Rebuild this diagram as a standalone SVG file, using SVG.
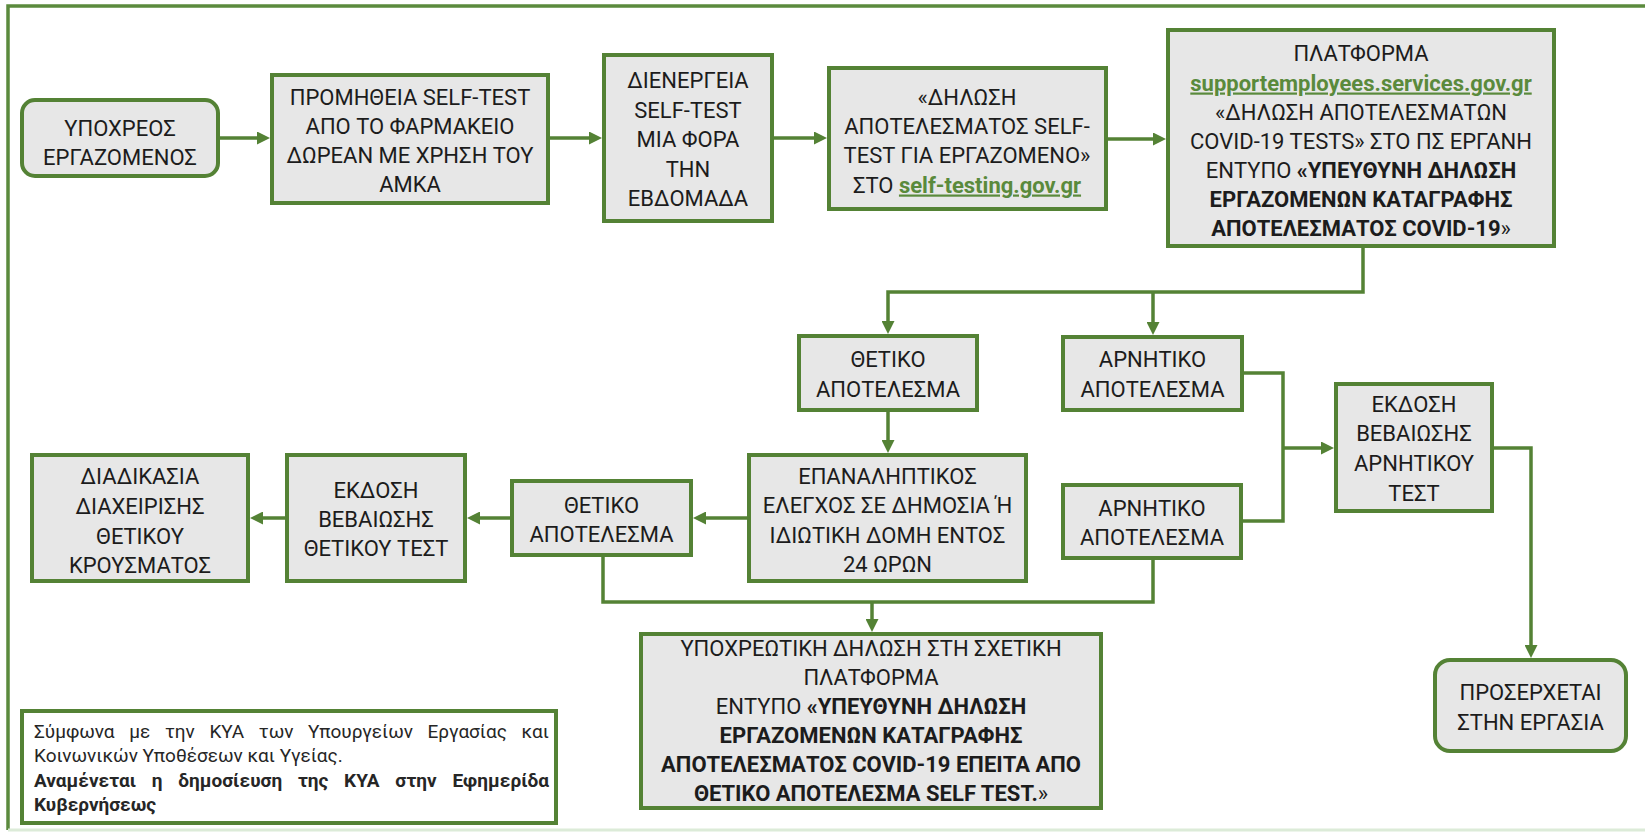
<svg xmlns="http://www.w3.org/2000/svg" width="1645" height="832" viewBox="0 0 1645 832">
<style>
.box{fill:#e7e7e7;stroke:#548235;stroke-width:4}
.note{fill:#ffffff;stroke:#548235;stroke-width:4}
.t{font-family:Roboto,"Noto Sans",sans-serif;font-size:22px;fill:#1c1c1c;text-anchor:middle}
.b{font-weight:bold}
.lnk{font-weight:bold;fill:#5a8a3c;text-decoration:underline}
.n{font-family:Roboto,"Noto Sans",sans-serif;font-size:19px;fill:#262626}
.c{fill:none;stroke:#548235;stroke-width:3.5}
.ca{fill:none;stroke:#548235;stroke-width:3.5;marker-end:url(#ah)}
</style>
<defs>
<marker id="ah" markerUnits="userSpaceOnUse" markerWidth="13" markerHeight="13" refX="7" refY="6.5" orient="auto">
<path d="M0,0 L13,6.5 L0,13 z" fill="#548235"/>
</marker>
</defs>
<rect width="1645" height="832" fill="#ffffff"/>
<g id="frame">
<path d="M1645,6 H8 V830" fill="none" stroke="#5b8a3d" stroke-width="3.5"/>
<path d="M8,830 H1645" fill="none" stroke="#dcebd8" stroke-width="3"/>
</g>
<g id="connectors">
<path class="ca" d="M220,138 H264"/>
<path class="ca" d="M550,138 H596"/>
<path class="ca" d="M774,138 H821"/>
<path class="ca" d="M1108,139 H1160"/>
<path class="ca" d="M1363,248 V292 H888 V328"/>
<path class="ca" d="M1153,292 V329"/>
<path class="ca" d="M888,412 V447"/>
<path class="ca" d="M747,518 H699"/>
<path class="ca" d="M510,518 H473"/>
<path class="ca" d="M285,518 H256"/>
<path class="c" d="M1244,373 H1283 V521 H1243"/>
<path class="ca" d="M1283,448 H1328"/>
<path class="ca" d="M1494,448 H1531 V652"/>
<path class="c" d="M603,557 V602 H1153 V560"/>
<path class="ca" d="M872,602 V626"/>
</g>
<g id="n1">
<rect class="box" x="22" y="100" width="196" height="76" rx="13"/>
<text class="t" x="120" y="136">ΥΠΟΧΡΕΟΣ</text>
<text class="t" x="120" y="165">ΕΡΓΑΖΟΜΕΝΟΣ</text>
</g>
<g id="n2">
<rect class="box" x="272" y="75" width="276" height="128"/>
<text class="t" x="410" y="104.5">ΠΡΟΜΗΘΕΙΑ SELF-TEST</text>
<text class="t" x="410" y="133.5">ΑΠΟ ΤΟ ΦΑΡΜΑΚΕΙΟ</text>
<text class="t" x="410" y="162.5">ΔΩΡΕΑΝ ΜΕ ΧΡΗΣΗ ΤΟΥ</text>
<text class="t" x="410" y="191.5">ΑΜΚΑ</text>
</g>
<g id="n3">
<rect class="box" x="604" y="55" width="168" height="166"/>
<text class="t" x="688" y="88">ΔΙΕΝΕΡΓΕΙΑ</text>
<text class="t" x="688" y="117.5">SELF-TEST</text>
<text class="t" x="688" y="147">ΜΙΑ ΦΟΡΑ</text>
<text class="t" x="688" y="176.5">ΤΗΝ</text>
<text class="t" x="688" y="206">ΕΒΔΟΜΑΔΑ</text>
</g>
<g id="n4">
<rect class="box" x="829" y="68" width="277" height="141"/>
<text class="t" x="967" y="105">«ΔΗΛΩΣΗ</text>
<text class="t" x="967" y="134">ΑΠΟΤΕΛΕΣΜΑΤΟΣ SELF-</text>
<text class="t" x="967" y="163">TEST ΓΙΑ ΕΡΓΑΖΟΜΕΝΟ»</text>
<text class="t" x="967" y="192.5">ΣΤΟ <tspan class="lnk">self-testing.gov.gr</tspan></text>
</g>
<g id="n5">
<rect class="box" x="1168" y="30" width="386" height="216"/>
<text class="t" x="1361" y="61">ΠΛΑΤΦΟΡΜΑ</text>
<text class="t lnk" x="1361" y="90.5">supportemployees.services.gov.gr</text>
<text class="t" x="1361" y="120">«ΔΗΛΩΣΗ ΑΠΟΤΕΛΕΣΜΑΤΩΝ</text>
<text class="t" x="1361" y="149">COVID-19 TESTS» ΣΤΟ ΠΣ ΕΡΓΑΝΗ</text>
<text class="t" x="1361" y="178">ΕΝΤΥΠΟ <tspan class="b">«ΥΠΕΥΘΥΝΗ ΔΗΛΩΣΗ</tspan></text>
<text class="t b" x="1361" y="207">ΕΡΓΑΖΟΜΕΝΩΝ ΚΑΤΑΓΡΑΦΗΣ</text>
<text class="t" x="1361" y="236"><tspan class="b">ΑΠΟΤΕΛΕΣΜΑΤΟΣ COVID-19</tspan>»</text>
</g>
<g id="n6">
<rect class="box" x="799" y="336" width="178" height="74"/>
<text class="t" x="888" y="367">ΘΕΤΙΚΟ</text>
<text class="t" x="888" y="397">ΑΠΟΤΕΛΕΣΜΑ</text>
</g>
<g id="n7">
<rect class="box" x="1063" y="337" width="179" height="73"/>
<text class="t" x="1152.5" y="367">ΑΡΝΗΤΙΚΟ</text>
<text class="t" x="1152.5" y="397">ΑΠΟΤΕΛΕΣΜΑ</text>
</g>
<g id="n8">
<rect class="box" x="1336" y="384" width="156" height="127"/>
<text class="t" x="1414" y="412">ΕΚΔΟΣΗ</text>
<text class="t" x="1414" y="441">ΒΕΒΑΙΩΣΗΣ</text>
<text class="t" x="1414" y="471">ΑΡΝΗΤΙΚΟΥ</text>
<text class="t" x="1414" y="501">ΤΕΣΤ</text>
</g>
<g id="n9">
<rect class="box" x="749" y="455" width="277" height="126"/>
<text class="t" x="887.5" y="484">ΕΠΑΝΑΛΗΠΤΙΚΟΣ</text>
<text class="t" x="887.5" y="513">ΕΛΕΓΧΟΣ ΣΕ ΔΗΜΟΣΙΑ Ή</text>
<text class="t" x="887.5" y="543">ΙΔΙΩΤΙΚΗ ΔΟΜΗ ΕΝΤΟΣ</text>
<text class="t" x="887.5" y="572">24 ΩΡΩΝ</text>
</g>
<g id="n10">
<rect class="box" x="512" y="481" width="179" height="74"/>
<text class="t" x="601.5" y="513">ΘΕΤΙΚΟ</text>
<text class="t" x="601.5" y="542">ΑΠΟΤΕΛΕΣΜΑ</text>
</g>
<g id="n11">
<rect class="box" x="1063" y="485" width="178" height="73"/>
<text class="t" x="1152" y="516">ΑΡΝΗΤΙΚΟ</text>
<text class="t" x="1152" y="545">ΑΠΟΤΕΛΕΣΜΑ</text>
</g>
<g id="n12">
<rect class="box" x="287" y="455" width="178" height="126"/>
<text class="t" x="376" y="498">ΕΚΔΟΣΗ</text>
<text class="t" x="376" y="527">ΒΕΒΑΙΩΣΗΣ</text>
<text class="t" x="376" y="556">ΘΕΤΙΚΟΥ ΤΕΣΤ</text>
</g>
<g id="n13">
<rect class="box" x="32" y="455" width="216" height="126"/>
<text class="t" x="140" y="484">ΔΙΑΔΙΚΑΣΙΑ</text>
<text class="t" x="140" y="514">ΔΙΑΧΕΙΡΙΣΗΣ</text>
<text class="t" x="140" y="544">ΘΕΤΙΚΟΥ</text>
<text class="t" x="140" y="573">ΚΡΟΥΣΜΑΤΟΣ</text>
</g>
<g id="n14">
<rect class="box" x="641" y="634" width="460" height="174"/>
<text class="t" x="871" y="656">ΥΠΟΧΡΕΩΤΙΚΗ ΔΗΛΩΣΗ ΣΤΗ ΣΧΕΤΙΚΗ</text>
<text class="t" x="871" y="685">ΠΛΑΤΦΟΡΜΑ</text>
<text class="t" x="871" y="714">ΕΝΤΥΠΟ <tspan class="b">«ΥΠΕΥΘΥΝΗ ΔΗΛΩΣΗ</tspan></text>
<text class="t b" x="871" y="743">ΕΡΓΑΖΟΜΕΝΩΝ ΚΑΤΑΓΡΑΦΗΣ</text>
<text class="t b" x="871" y="772">ΑΠΟΤΕΛΕΣΜΑΤΟΣ COVID-19 ΕΠΕΙΤΑ ΑΠΟ</text>
<text class="t" x="871" y="801"><tspan class="b">ΘΕΤΙΚΟ ΑΠΟΤΕΛΕΣΜΑ SELF TEST.</tspan>»</text>
</g>
<g id="n15">
<rect class="box" x="1435" y="660" width="191" height="91" rx="15"/>
<text class="t" x="1530.5" y="700">ΠΡΟΣΕΡΧΕΤΑΙ</text>
<text class="t" x="1530.5" y="730">ΣΤΗΝ ΕΡΓΑΣΙΑ</text>
</g>
<g id="note">
<rect class="note" x="22" y="711" width="534" height="112"/>
<text class="n" x="34" y="738" textLength="515" lengthAdjust="spacing" style="word-spacing:10px">Σύμφωνα με την ΚΥΑ των Υπουργείων Εργασίας και</text>
<text class="n" x="34" y="762">Κοινωνικών Υποθέσεων και Υγείας.</text>
<text class="n b" x="34" y="787" textLength="515" lengthAdjust="spacing" style="word-spacing:11px">Αναμένεται η δημοσίευση της ΚΥΑ στην Εφημερίδα</text>
<text class="n b" x="34" y="811">Κυβερνήσεως</text>
</g>
</svg>
